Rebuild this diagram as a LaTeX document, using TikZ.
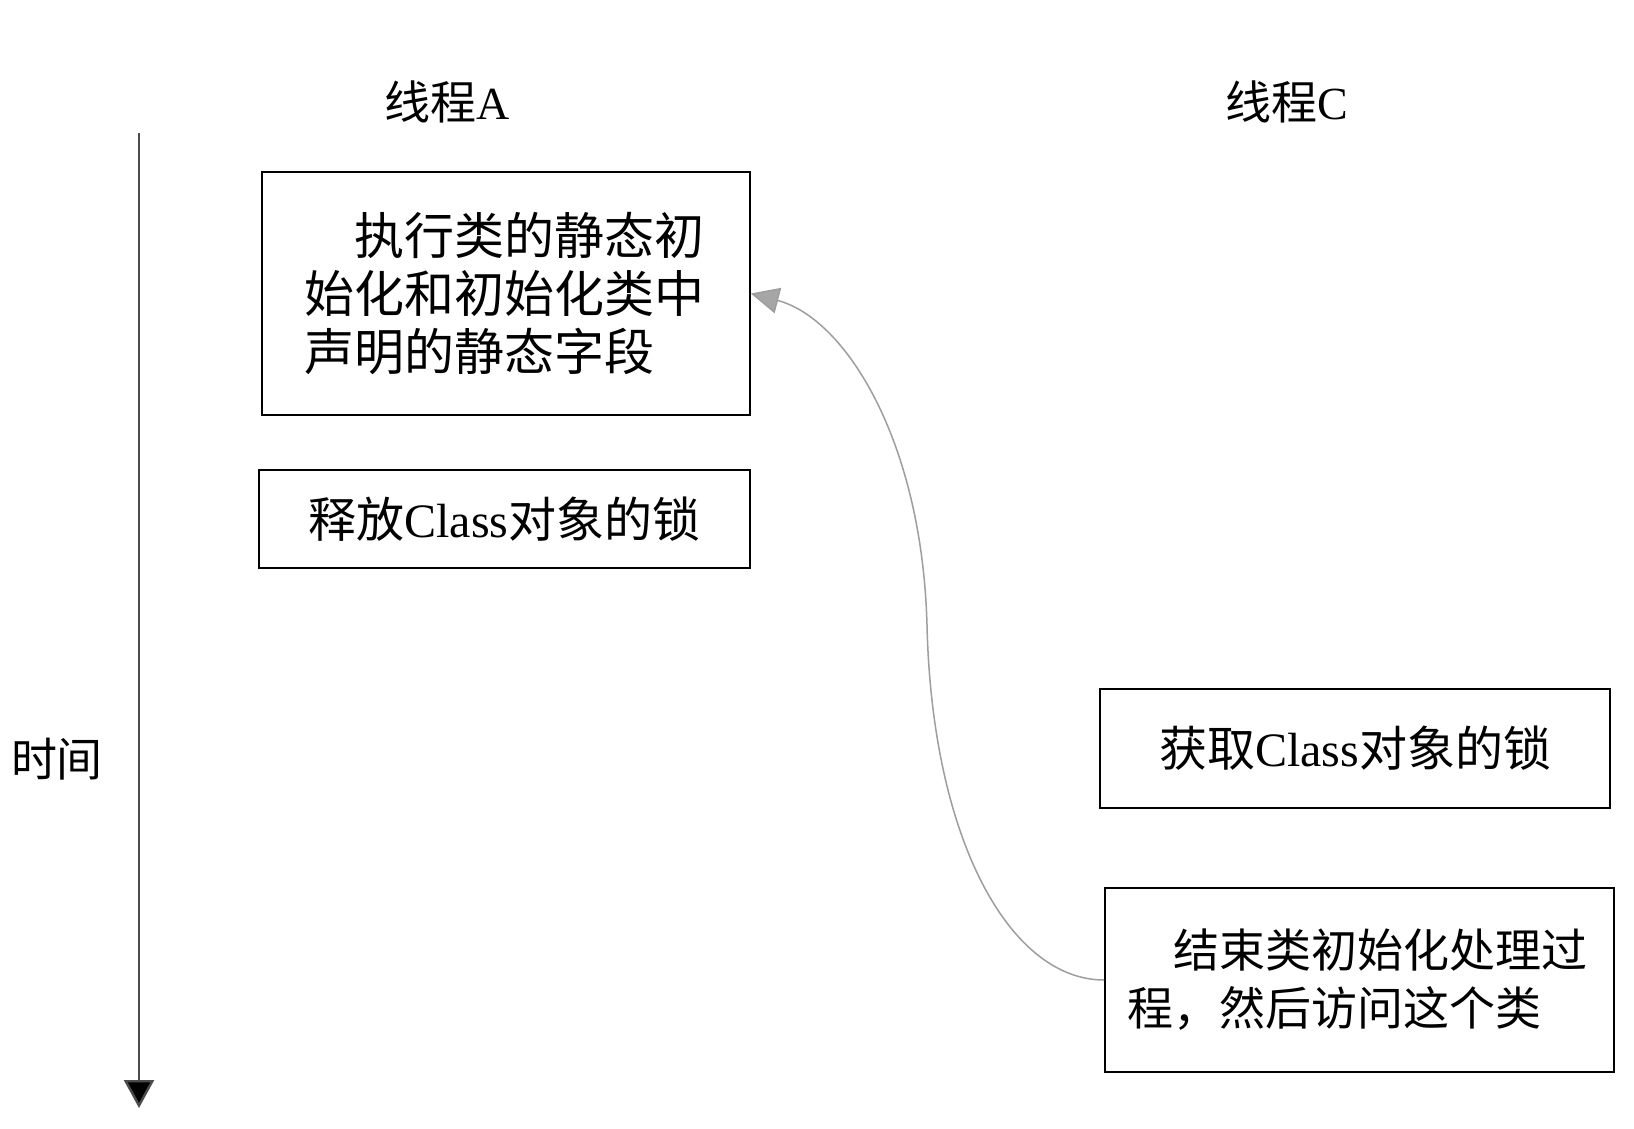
\documentclass[tikz,border=0pt]{standalone}
\usepackage{fontspec}
\setmainfont{Liberation Serif}
\newfontfamily\cjk{Noto Sans CJK SC}
\usetikzlibrary{arrows.meta}
\begin{document}
\begin{tikzpicture}[x=1pt,y=-1pt,
  box/.style={draw=black,line width=1.7pt,inner sep=0pt},
  lbl/.style={font=\fontsize{46}{58}\selectfont,inner sep=0pt}]
\useasboundingbox[fill=white] (0,0) rectangle (1634,1128);
% time axis
\coordinate (t0) at (139,133);
\coordinate (t1) at (139,1108);
\draw[line width=2.4pt,black!70,-{Triangle[length=28pt,width=30pt,fill=black]}] (t0) -- (t1);
\node[lbl] (time) at (57,759) {\cjk 时间};
% titles
\node[lbl] (ta) at (447,102) {{\cjk 线程}A};
\node[lbl] (tc) at (1287,102) {{\cjk 线程}C};
% boxes
\node[box,minimum width=488pt,minimum height=243pt,text width=404pt,align=left,
  font=\fontsize{50}{58}\selectfont] (b1) at (506,293.5)
  {\cjk\hspace*{1em}执行类的静态初\\始化和初始化类中\\声明的静态字段};
\node[box,minimum width=491pt,minimum height=98pt,font=\fontsize{48}{56}\selectfont] (b2) at (504.5,519)
  {{\cjk 释放}Class{\cjk 对象的锁}};
\node[box,minimum width=510pt,minimum height=119pt,font=\fontsize{48}{56}\selectfont] (b3) at (1355,748.5)
  {{\cjk 获取}Class{\cjk 对象的锁}};
\node[box,minimum width=509pt,minimum height=184pt,text width=464pt,align=left,
  font=\fontsize{46}{58}\selectfont] (b4) at (1359.5,980)
  {\cjk\hspace*{1em}结束类初始化处理过\\程，然后访问这个类};
% curved arrow
\coordinate (mid) at (927,625);
\draw[line width=1.5pt,black!38,-{Triangle[length=28pt,width=26pt,fill=black!35]}]
  (b4.west) .. controls (1010,980) and (932,840) .. (mid)
  .. controls (922,440) and (845,318) .. (b1.east);
\end{tikzpicture}
\end{document}
